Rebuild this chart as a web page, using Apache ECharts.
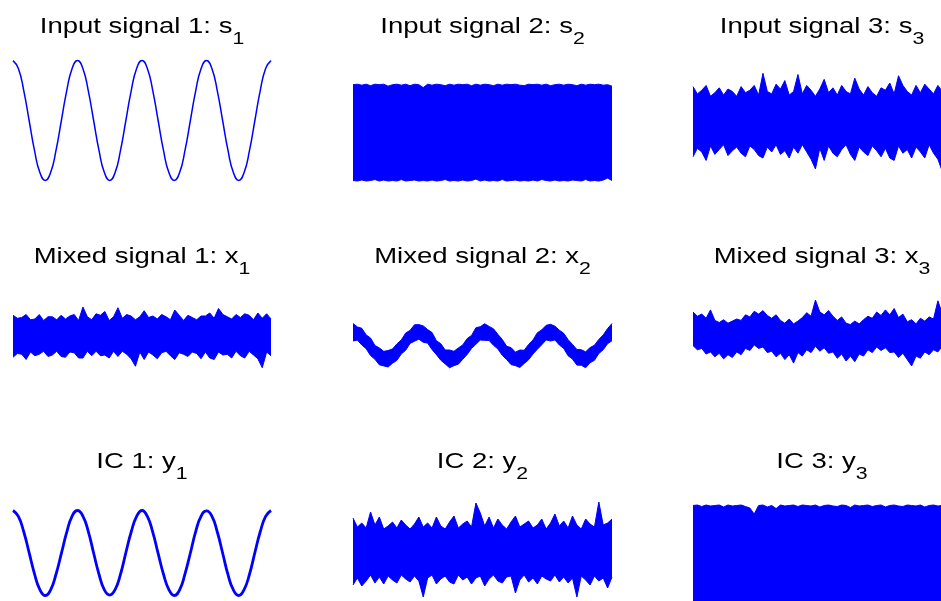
<!DOCTYPE html>
<html>
<head>
<meta charset="utf-8">
<title>ICA signals</title>
<script src="https://cdn.jsdelivr.net/npm/echarts@6/dist/echarts.min.js"></script>
<style>
  html, body { margin: 0; padding: 0; background: #fff; }
  #chart { width: 941px; height: 601px; }
</style>
</head>
<body>
<div id="chart"></div>
<script>
const BLUE = '#0000ff';

// --- input signals ---
const s1 = [
  1.00, 0.87, 0.50, 0.00, -0.50, -0.87, -1.00, -0.87, -0.50, 0.00, 0.50, 0.87,
  1.00, 0.87, 0.50, 0.00, -0.50, -0.87, -1.00, -0.87, -0.50, 0.00, 0.50, 0.87,
  1.00, 0.87, 0.50, 0.00, -0.50, -0.87, -1.00, -0.87, -0.50, 0.00, 0.50, 0.87,
  1.00, 0.87, 0.50, 0.00, -0.50, -0.87, -1.00, -0.87, -0.50, 0.00, 0.50, 0.87,
  1.00
];
// noisy signals are kept as upper / lower envelopes
const s2Upper = [
  0.99, 1.00, 0.98, 1.00, 0.97, 1.00, 0.99, 1.00, 0.96, 0.99,
  1.00, 0.98, 1.00, 0.97, 1.00, 0.99, 0.93, 1.00, 0.98, 1.00,
  0.99, 0.97, 1.00, 0.98, 1.00, 0.99, 1.00, 0.97, 1.00, 0.98,
  1.00, 0.99, 0.97, 1.00, 0.98, 1.00, 0.99, 1.00, 0.98, 0.97,
  1.00, 0.99, 1.00, 0.98, 1.00, 0.97, 0.99, 1.00, 0.98, 1.00,
  0.99, 0.97, 1.00, 0.98, 1.00, 0.99, 1.00, 0.98, 0.99, 0.96
];
const s2Lower = [
  -0.99, -1.00, -0.98, -1.00, -0.99, -0.97, -1.00, -0.98, -1.00, -0.99,
  -1.00, -0.97, -1.00, -0.99, -0.98, -1.00, -0.99, -1.00, -0.98, -1.00,
  -0.99, -0.97, -1.00, -0.99, -1.00, -0.98, -1.00, -0.99, -0.96, -1.00,
  -0.98, -1.00, -0.99, -1.00, -0.97, -1.00, -0.99, -0.98, -1.00, -0.99,
  -1.00, -0.98, -1.00, -0.97, -0.99, -1.00, -0.98, -1.00, -0.99, -1.00,
  -0.98, -0.99, -1.00, -0.97, -1.00, -0.99, -1.00, -0.98, -0.94, -0.99
];
const s3Upper = [
  2.8, 2.2, 2.5, 2.9, 2.0, 2.3, 2.7, 2.1, 2.6, 2.4,
  2.0, 2.8, 2.3, 2.5, 2.9, 2.1, 3.9, 2.4, 2.2, 3.0,
  2.6, 3.3, 2.1, 2.4, 3.8, 2.2, 2.9, 2.5, 2.0, 2.6,
  3.4, 2.3, 2.7, 2.1, 2.9, 2.4, 2.2, 3.5, 2.6, 2.1,
  2.8, 2.3, 2.0, 2.7, 2.5, 3.1, 2.2, 3.7, 2.9, 2.4,
  2.1, 2.9, 2.3, 3.0, 2.6, 2.2, 2.9, 2.4, 2.8, 2.1
];
const s3Lower = [
  -3.0, -2.3, -2.6, -3.3, -2.1, -2.8, -2.4, -2.0, -2.9, -2.5,
  -2.2, -2.7, -3.0, -2.1, -2.4, -2.9, -3.1, -2.2, -2.6, -2.0,
  -2.8, -2.5, -3.1, -2.2, -2.7, -2.0, -2.6, -3.2, -4.0, -2.3,
  -3.3, -2.1, -2.7, -3.0, -2.4, -2.0, -2.8, -3.3, -2.2, -2.6,
  -2.9, -2.1, -2.5, -3.0, -2.3, -3.1, -3.3, -2.1, -2.7, -2.4,
  -3.1, -2.2, -2.6, -3.1, -2.0, -2.7, -3.2, -4.2, -2.3, -2.8
];

// --- mixed signals ---
const x1Upper = [
  2.7, 2.3, 2.4, 2.8, 2.1, 2.2, 2.8, 2.0, 2.5, 2.5,
  2.1, 2.7, 2.2, 2.6, 2.8, 2.0, 3.8, 2.5, 2.1, 2.9,
  2.7, 3.2, 2.0, 2.5, 3.7, 2.3, 2.8, 2.6, 2.1, 2.5,
  3.3, 2.4, 2.6, 2.2, 2.8, 2.5, 2.1, 3.4, 2.7, 2.0,
  2.7, 2.4, 2.1, 2.6, 2.6, 3.0, 2.3, 3.6, 2.8, 2.5,
  2.2, 2.8, 2.4, 2.9, 2.7, 2.1, 3.0, 2.3, 2.9, 2.2
];
const x1Lower = [
  -2.9, -2.4, -2.5, -3.2, -2.2, -2.7, -2.5, -2.1, -2.8, -2.6,
  -2.1, -2.8, -2.9, -2.2, -2.3, -3.0, -3.0, -2.1, -2.7, -2.1,
  -2.7, -2.6, -3.0, -2.1, -2.8, -2.1, -2.5, -3.1, -4.1, -2.2,
  -3.2, -2.2, -2.6, -3.1, -2.3, -2.1, -2.7, -3.2, -2.3, -2.5,
  -2.8, -2.2, -2.4, -3.1, -2.2, -3.0, -3.2, -2.2, -2.6, -2.5,
  -3.0, -2.1, -2.7, -3.0, -2.1, -2.6, -3.1, -4.3, -2.2, -2.7
];
const x2Upper = [
  1.66, 1.40, 1.30, 0.80, 0.56, 0.00, -0.18, -0.44, -0.38, -0.26, 0.12, 0.42, 0.94, 1.14, 1.56,
  1.58, 1.48, 1.20, 0.98, 0.36, 0.14, -0.34, -0.34, -0.44, -0.18, 0.04, 0.52, 0.76, 1.34, 1.42,
  1.64, 1.44, 1.26, 0.84, 0.46, -0.06, -0.16, -0.50, -0.34, -0.36, 0.08, 0.42, 0.96, 1.18, 1.52,
  1.60, 1.46, 1.16, 0.92, 0.44, 0.08, -0.30, -0.32, -0.48, -0.16, 0.02, 0.46, 0.80, 1.28, 1.66
];
const x2Lower = [
  0.34, 0.41, 0.04, -0.24, -0.76, -1.04, -1.46, -1.54, -1.62, -1.34, -1.12, -0.64, -0.36, 0.16, 0.32,
  0.48, 0.24, 0.18, -0.31, -0.69, -1.11, -1.39, -1.68, -1.52, -1.41, -1.04, -0.68, -0.22, 0.09, 0.41,
  0.39, 0.38, 0.02, -0.26, -0.74, -1.06, -1.44, -1.52, -1.66, -1.36, -1.08, -0.64, -0.28, 0.06, 0.42,
  0.34, 0.42, 0.04, -0.22, -0.78, -1.02, -1.48, -1.49, -1.68, -1.30, -1.12, -0.60, -0.32, 0.14, 0.36
];
const x3Upper = [
  3.0, 2.4, 2.7, 2.1, 3.3, 1.8, 1.5, 1.9, 1.4, 1.7,
  2.0, 1.8, 2.6, 2.3, 3.1, 2.7, 3.2, 2.5, 2.1, 2.6,
  1.8, 1.4, 2.0, 1.3, 1.7, 2.2, 2.9, 2.4, 4.7, 3.0,
  2.6, 3.2, 2.4, 1.8, 2.3, 1.4, 1.2, 1.7, 1.3, 1.9,
  2.4, 2.1, 3.0, 2.5, 3.3, 2.6, 3.5, 2.2, 2.7, 1.6,
  1.9, 1.3, 2.1, 1.7, 2.3, 2.0, 4.6, 2.8, 3.1, 2.5
];
const x3Lower = [
  -1.8, -2.4, -2.2, -3.0, -2.7, -3.4, -2.9, -3.7, -3.1, -3.5,
  -2.7, -3.1, -2.2, -2.5, -1.7, -2.2, -2.0, -2.8, -2.6, -3.4,
  -2.9, -3.8, -3.1, -4.3, -2.8, -3.3, -2.4, -2.8, -1.9, -2.6,
  -2.1, -2.9, -2.7, -3.6, -3.0, -4.0, -3.3, -4.1, -3.0, -3.3,
  -2.4, -2.8, -2.0, -2.5, -2.1, -2.8, -2.7, -3.5, -2.9, -3.8,
  -4.7, -3.3, -3.6, -2.7, -3.1, -2.4, -2.7, -1.9, -2.6, -2.2
];

// --- independent components ---
const y1 = [
  1.00, 0.86, 0.50, 0.01, -0.49, -0.86, -1.00, -0.87, -0.50, -0.01, 0.49, 0.87,
  1.00, 0.87, 0.51, 0.00, -0.50, -0.87, -0.99, -0.86, -0.50, 0.01, 0.50, 0.86,
  1.00, 0.86, 0.49, -0.01, -0.50, -0.86, -1.00, -0.87, -0.49, 0.00, 0.51, 0.87,
  0.99, 0.87, 0.50, 0.00, -0.51, -0.87, -1.00, -0.86, -0.50, 0.01, 0.50, 0.86,
  1.00
];
const y2Upper = [
  3.4, 2.5, 2.9, 2.4, 4.0, 2.7, 3.5, 2.3, 2.6, 3.0,
  2.4, 3.2, 2.7, 2.3, 2.8, 3.5, 2.5, 2.9, 2.4, 3.5,
  2.6, 2.3, 3.0, 3.6, 2.4, 2.8, 3.1, 2.5, 4.9, 3.9,
  2.6, 3.5, 2.4, 3.3, 2.7, 2.3, 3.0, 3.6, 2.5, 2.8,
  3.1, 2.4, 2.7, 3.3, 2.3, 2.9, 3.8, 2.6, 3.1, 2.4,
  3.6, 2.7, 2.3, 3.3, 2.8, 2.5, 5.0, 2.7, 2.9, 3.3
];
const y2Lower = [
  -3.3, -2.6, -3.4, -2.9, -2.3, -3.1, -2.5, -3.2, -2.4, -2.8,
  -3.1, -2.3, -2.7, -3.0, -2.4, -2.9, -4.5, -2.6, -2.3, -3.2,
  -2.7, -2.4, -3.0, -3.2, -2.3, -2.8, -2.5, -3.2, -2.6, -2.4,
  -3.4, -2.7, -2.3, -2.9, -3.1, -2.5, -2.4, -4.1, -2.8, -2.3,
  -3.0, -2.6, -3.2, -2.4, -2.7, -2.9, -2.3, -3.0, -2.5, -3.1,
  -2.6, -4.5, -2.4, -2.8, -3.3, -2.4, -2.9, -2.6, -3.6, -2.5
];
const y3Upper = [
  0.99, 1.00, 0.97, 1.00, 0.98, 0.99, 1.00, 0.96, 1.00, 0.98,
  0.99, 1.00, 0.97, 0.94, 0.82, 0.99, 1.00, 0.96, 0.99, 0.93,
  1.00, 0.98, 0.99, 1.00, 0.97, 1.00, 0.99, 0.98, 1.00, 0.96,
  0.99, 1.00, 0.98, 0.97, 1.00, 0.99, 0.95, 1.00, 0.98, 0.99,
  1.00, 0.97, 0.99, 1.00, 0.96, 0.99, 1.00, 0.98, 0.97, 1.00,
  0.99, 0.98, 1.00, 0.96, 0.99, 1.00, 0.98, 0.99, 0.97, 1.00
];
const y3Lower = [
  -0.99, -1.00, -0.98, -1.00, -0.99, -0.97, -1.00, -0.99, -0.98, -1.00,
  -1.00, -0.99, -0.98, -1.00, -0.99, -1.00, -0.97, -1.00, -0.99, -0.98,
  -1.00, -0.99, -1.00, -0.98, -1.00, -0.99, -0.97, -1.00, -0.99, -1.00,
  -0.98, -1.00, -0.99, -1.00, -0.98, -0.99, -1.00, -0.97, -1.00, -0.99,
  -1.00, -0.98, -0.99, -1.00, -0.99, -0.98, -1.00, -0.99, -1.00, -0.97,
  -1.00, -0.99, -0.98, -1.00, -0.99, -1.00, -0.98, -0.99, -1.00, -0.99
];

const titles = [
  ['Input signal 1: s', '1'], ['Input signal 2: s', '2'], ['Input signal 3: s', '3'],
  ['Mixed signal 1: x', '1'], ['Mixed signal 2: x', '2'], ['Mixed signal 3: x', '3'],
  ['IC 1: y', '1'], ['IC 2: y', '2'], ['IC 3: y', '3']
];

// layout of the 3x3 subplots (pixels), and the y range of each
const colLeft = [13, 353, 693];
const colWidth = [258, 259, 258];
const titleTop = [16.3, 246.3, 451.3];
const panels = [
  { top: 60, height: 121, min: -1.01, max: 1.01, line: s1, lw: 1.5 },
  { top: 60, height: 121, min: -1, max: 1.5, upper: s2Upper, lower: s2Lower },
  { top: 60, height: 121, min: -5, max: 5, upper: s3Upper, lower: s3Lower },
  { top: 298, height: 75, min: -5, max: 5, upper: x1Upper, lower: x1Lower },
  { top: 319, height: 53, min: -2, max: 2, upper: x2Upper, lower: x2Lower },
  { top: 298, height: 70, min: -5, max: 5, upper: x3Upper, lower: x3Lower },
  { top: 505, height: 96, min: -1.13, max: 1.13, line: y1, lw: 2.8 },
  { top: 497, height: 110, min: -5.5, max: 5.5, upper: y2Upper, lower: y2Lower },
  { top: 505, height: 100, min: -1, max: 1, upper: y3Upper, lower: y3Lower }
];

const grid = [], xAxis = [], yAxis = [], series = [], graphic = [];

panels.forEach((p, k) => {
  const col = k % 3;
  const n = (p.line || p.upper).length;
  grid.push({
    left: colLeft[col], top: p.top, width: colWidth[col], height: p.height,
    containLabel: false, outerBoundsMode: 'none'
  });
  xAxis.push({
    gridIndex: k, type: 'category', boundaryGap: false, show: false,
    data: Array.from({ length: n }, (_, i) => i)
  });
  yAxis.push({ gridIndex: k, type: 'value', min: p.min, max: p.max, show: false });

  if (p.line) {
    series.push({
      type: 'line', xAxisIndex: k, yAxisIndex: k, data: p.line,
      smooth: true, symbol: 'none', clip: false,
      lineStyle: { color: BLUE, width: p.lw }
    });
  } else {
    // band: lower envelope, then (upper - lower) stacked on it and filled
    series.push({
      type: 'line', xAxisIndex: k, yAxisIndex: k, data: p.lower,
      stack: 'band' + k, stackStrategy: 'all', symbol: 'none', clip: false,
      lineStyle: { color: BLUE, width: 1 }
    });
    series.push({
      type: 'line', xAxisIndex: k, yAxisIndex: k,
      data: p.upper.map((v, i) => +(v - p.lower[i]).toFixed(3)),
      stack: 'band' + k, stackStrategy: 'all', symbol: 'none', clip: false,
      lineStyle: { color: BLUE, width: 1 },
      areaStyle: { color: BLUE, opacity: 1 }
    });
  }

  graphic.push({
    type: 'text',
    x: colLeft[col] + colWidth[col] / 2,
    y: titleTop[Math.floor(k / 3)],
    scaleX: 1.25,
    silent: true,
    style: {
      text: '{m|' + titles[k][0] + '}{b|' + titles[k][1] + '}',
      align: 'center', textAlign: 'center',
      verticalAlign: 'top', textVerticalAlign: 'top',
      fill: '#000',
      rich: {
        m: { fontSize: 22, fontFamily: 'Liberation Sans', lineHeight: 22, verticalAlign: 'top', fill: '#000' },
        b: { fontSize: 17, fontFamily: 'Liberation Sans', lineHeight: 46, fill: '#000' }
      }
    }
  });
});

const chart = echarts.init(document.getElementById('chart'));
chart.setOption({
  animation: false,
  backgroundColor: '#fff',
  tooltip: { show: false },
  grid, xAxis, yAxis, series, graphic
});
</script>
</body>
</html>
